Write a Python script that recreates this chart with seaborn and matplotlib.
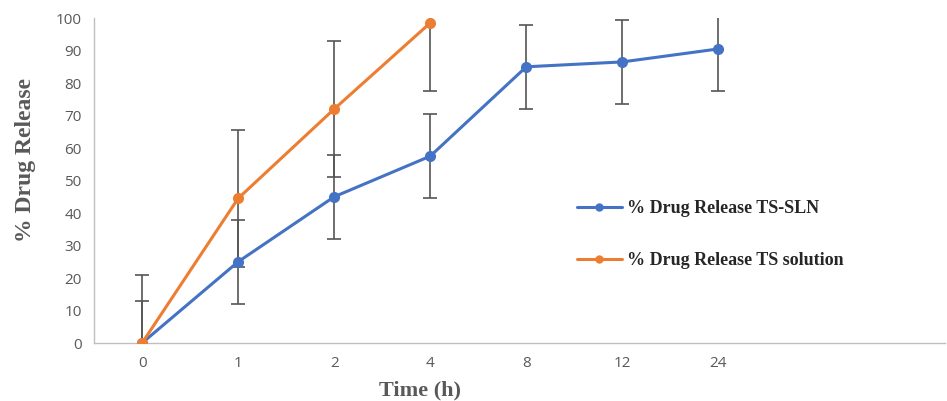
import numpy as np
import pandas as pd
import matplotlib
matplotlib.use("Agg")
from matplotlib import pyplot as plt
import seaborn as sns

time_labels = ["0", "1", "2", "4", "8", "12", "24"]
sln_release = [0, 25, 45, 57.5, 85, 86.5, 90.5]
sln_err = [13, 13, 13, 13, 13, 13, 13]
sol_labels = ["0", "1", "2", "4"]
sol_release = [0, 44.5, 72, 98.5]
sol_err = [21, 21, 21, 21]

sln_name = "% Drug Release TS-SLN"
sol_name = "% Drug Release TS solution"
blue = "#4472C4"
orange = "#ED7D31"

sns.set_style("white")
plt.rcParams["font.family"] = ["Open Sans", "DejaVu Sans"]

pos = {lab: i for i, lab in enumerate(time_labels)}
df = pd.DataFrame({
    "x": [pos[t] for t in time_labels] + [pos[t] for t in sol_labels],
    "y": sln_release + sol_release,
    "err": sln_err + sol_err,
    "series": [sln_name] * len(sln_release) + [sol_name] * len(sol_release),
})

fig = plt.figure(figsize=(9.47, 4.01), dpi=100)
ax = fig.add_axes([0.0993, 0.1446, 0.8987, 0.8104])

for name, col in [(sln_name, blue), (sol_name, orange)]:
    d = df[df["series"] == name]
    ax.errorbar(d["x"], d["y"], yerr=d["err"], fmt="none", ecolor="#555555",
                elinewidth=1.2, capsize=5, capthick=1.2, zorder=2)

sns.lineplot(data=df, x="x", y="y", hue="series", palette=[blue, orange],
             marker="o", markersize=8, markeredgewidth=0, linewidth=2.2,
             ax=ax, zorder=3, legend=False)

ax.set_xlim(-0.5, 8.36)
ax.set_ylim(0, 100)
ax.set_yticks(np.arange(0, 101, 10))
ax.set_xticks(range(len(time_labels)))
ax.set_xticklabels(time_labels)
ax.tick_params(axis="both", length=0, labelsize=11, labelcolor="#595959", pad=9)
for s in ["top", "right"]:
    ax.spines[s].set_visible(False)
for s in ["left", "bottom"]:
    ax.spines[s].set_color("#BFBFBF")
    ax.spines[s].set_linewidth(1.0)

ax.set_xlabel("Time (h)", fontsize=16, fontweight="bold", color="#595959",
              family="Liberation Serif")
ax.xaxis.set_label_coords(0.383, -0.115)
ax.set_ylabel("% Drug Release", fontsize=17, fontweight="bold", color="#595959",
              family="Liberation Serif")
ax.yaxis.set_label_coords(-0.068, 0.563)

handles = [
    plt.Line2D([], [], color=blue, lw=2.2, marker="o", markersize=6, markeredgewidth=0),
    plt.Line2D([], [], color=orange, lw=2.2, marker="o", markersize=6, markeredgewidth=0),
]
leg = ax.legend(handles, [sln_name, sol_name], loc="upper left",
                bbox_to_anchor=(0.548, 0.49), frameon=False, handlelength=2.5,
                handletextpad=0.3, labelspacing=1.95,
                prop={"family": "Liberation Serif", "weight": "bold", "size": 13})
for t in leg.get_texts():
    t.set_color("#262626")

fig.savefig("out.png", dpi=100)
